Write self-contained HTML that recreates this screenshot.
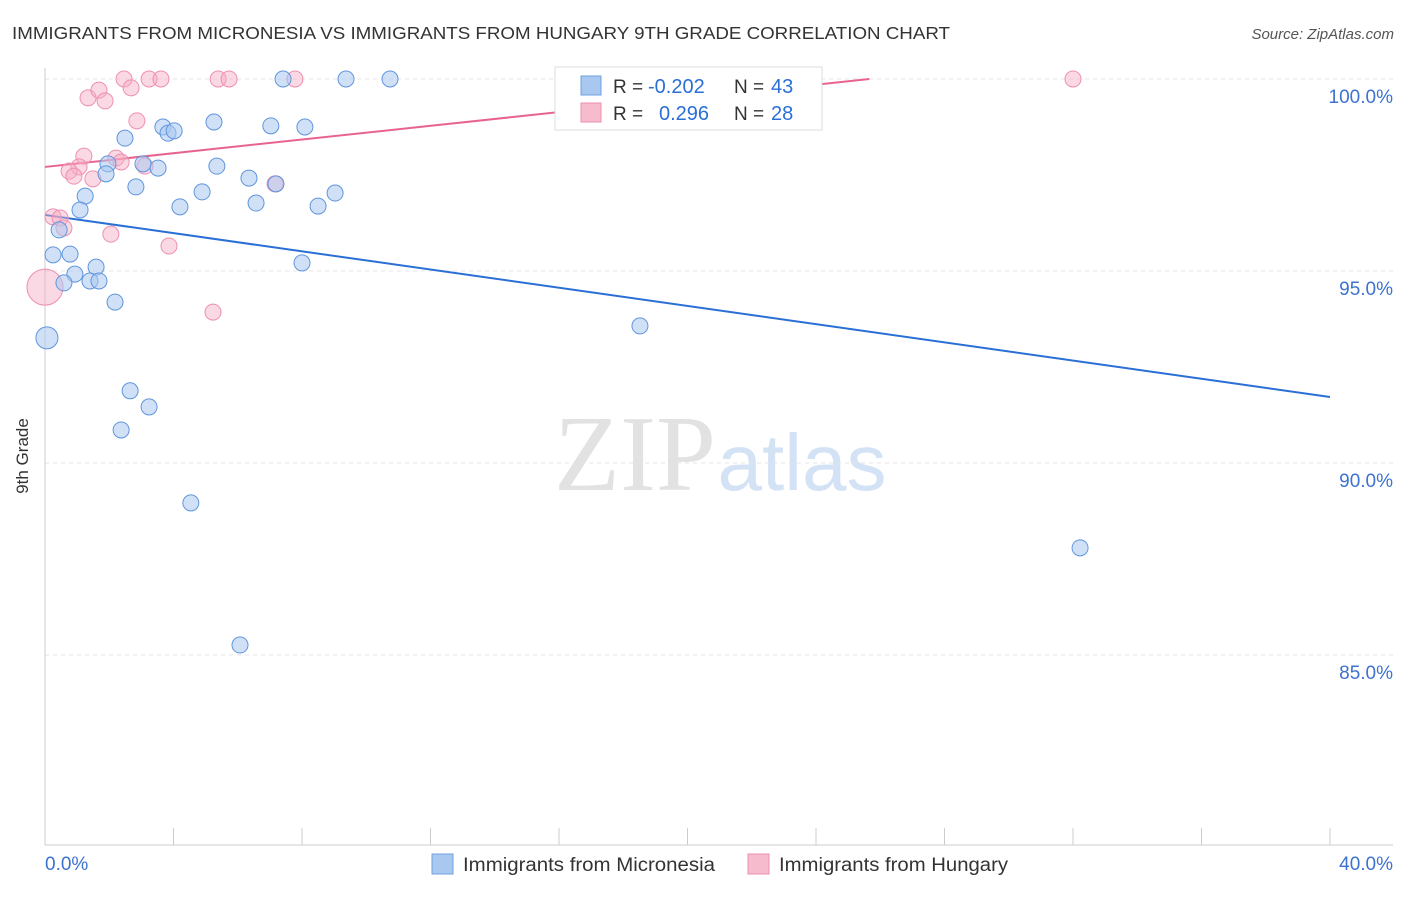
<!DOCTYPE html>
<html><head><meta charset="utf-8"><style>
body{margin:0;background:#fff;font-family:"Liberation Sans",sans-serif}
svg text{font-family:"Liberation Sans",sans-serif}
</style></head><body>
<svg id="chart" width="1406" height="892">
<text x="12" y="39" font-size="17.5" fill="#333" textLength="938" lengthAdjust="spacingAndGlyphs">IMMIGRANTS FROM MICRONESIA VS IMMIGRANTS FROM HUNGARY 9TH GRADE CORRELATION CHART</text>
<text x="1394" y="39" font-size="15" fill="#555" text-anchor="end" font-style="italic">Source: ZipAtlas.com</text>
<text x="28" y="456" font-size="17" fill="#333" text-anchor="middle" transform="rotate(-90 28 456)">9th Grade</text>
<g>
<text x="635" y="490" font-size="108" fill="#e2e2e2" text-anchor="middle" style="font-family:'Liberation Serif',serif">ZIP</text>
<text x="802" y="490" font-size="80" fill="#d3e2f5" text-anchor="middle">atlas</text>
</g>
<g id="grid"></g><g id="axes"></g><g id="lines"></g><g id="pts"></g>
<g>
<rect x="555" y="67" width="267" height="63" fill="#fff" stroke="#ddd"/>
<rect x="581" y="76" width="20" height="19" fill="#a9c8f0" stroke="#6fa0e0"/>
<rect x="581" y="103" width="20" height="19" fill="#f6bccd" stroke="#ee8fae"/>
<text x="613" y="93" font-size="19" fill="#333">R =</text>
<text x="648" y="93" font-size="20" fill="#2a6fd6">-0.202</text>
<text x="734" y="93" font-size="19" fill="#333">N =</text>
<text x="771" y="93" font-size="20" fill="#2a6fd6">43</text>
<text x="613" y="120" font-size="19" fill="#333">R =</text>
<text x="659" y="120" font-size="20" fill="#2a6fd6">0.296</text>
<text x="734" y="120" font-size="19" fill="#333">N =</text>
<text x="771" y="120" font-size="20" fill="#2a6fd6">28</text>
</g>
<g>
<rect x="432" y="854" width="21" height="20" fill="#a9c8f0" stroke="#6fa0e0"/>
<text x="463" y="871" font-size="19" fill="#333" textLength="252" lengthAdjust="spacingAndGlyphs">Immigrants from Micronesia</text>
<rect x="748" y="854" width="21" height="20" fill="#f6bccd" stroke="#ee8fae"/>
<text x="779" y="871" font-size="19" fill="#333" textLength="229" lengthAdjust="spacingAndGlyphs">Immigrants from Hungary</text>
</g>
</svg>
<script>
const blueX=[7.41,9.37,10.74,2.49,3.67,3.83,4.02,5.26,7.03,8.09,1.96,3.05,3.52,5.35,1.90,2.83,6.35,4.89,7.19,9.03,1.25,4.20,6.57,8.50,1.09,0.44,0.25,0.78,1.59,0.93,0.59,1.40,1.68,8.00,2.18,18.52,0.06,2.65,3.24,2.37,4.54,32.22,6.07];
const blueY=[100,100,100,98.46,98.75,98.59,98.65,98.88,98.78,98.75,97.79,97.79,97.68,97.73,97.53,97.19,97.42,97.06,97.27,97.03,96.95,96.67,96.77,96.69,96.59,96.07,95.42,95.44,95.10,94.92,94.69,94.74,94.74,95.21,94.19,93.57,93.26,91.88,91.46,90.86,88.96,87.79,85.26];
const pinkX=[2.46,3.24,3.61,5.39,5.73,7.78,32.0,1.34,1.68,1.87,2.68,2.86,1.21,2.21,2.37,3.11,1.06,0.75,0.90,1.49,7.16,0.25,0.47,0.59,2.05,3.86,5.23,0];
const pinkY=[100,100,100,100,100,100,100,99.51,99.71,99.43,99.77,98.91,97.99,97.94,97.84,97.73,97.71,97.60,97.47,97.40,97.27,96.41,96.38,96.12,95.96,95.65,93.93,94.58];
const blueTrend=[96.46,91.72];
const pinkTrend=[97.71,101.28];
const yTicks=[100,95,90,85];
const yTickLabels=["100.0%","95.0%","90.0%","85.0%"];
const xTickLabels=["0.0%","40.0%"];
const NS="http://www.w3.org/2000/svg";
const X=v=>45+v*32.125, Y=v=>79+(100-v)*38.4;
function mk(p,t,a){const e=document.createElementNS(NS,t);for(const k in a)e.setAttribute(k,a[k]);document.getElementById(p).appendChild(e);return e;}
yTicks.forEach((t,i)=>{
 const l=mk('grid','line',{x1:45,x2:1393,y1:Y(t),y2:Y(t),stroke:'#e4e4e4','stroke-dasharray':'4,4'});
 
 
 const tx=mk('grid','text',{x:1393,y:Y(t)+24,'font-size':19,fill:'#3d72d0','text-anchor':'end'});tx.textContent=yTickLabels[i];
 
 
});
mk('axes','line',{x1:45,x2:45,y1:68,y2:845,stroke:'#ccc'});
mk('axes','line',{x1:45,x2:1393,y1:845,y2:845,stroke:'#ccc'});
for(let i=0;i<=10;i++){const t=mk('axes','line',{x1:X(i*4),x2:X(i*4),y1:828,y2:845,stroke:'#ccc'});
 
 }
[[0,45,'start'],[40,1393,'end']].forEach((d,i)=>{const t=mk('axes','text',{x:d[1],y:870,'font-size':19,fill:'#3d72d0','text-anchor':d[2]});t.textContent=xTickLabels[i];
 
 });
const bl=mk('lines','line',{x1:X(0),y1:Y(blueTrend[0]),x2:X(40),y2:Y(blueTrend[1]),stroke:'#2a6fd6','stroke-width':2});


const slope=(pinkTrend[1]-pinkTrend[0])/40, xe=Math.min(40,(100-pinkTrend[0])/slope);
const pl=mk('lines','line',{x1:X(0),y1:Y(pinkTrend[0]),x2:X(xe),y2:Y(pinkTrend[0]+slope*xe),stroke:'#e8648f','stroke-width':2});


pinkX.forEach((x,i)=>{const c=mk('pts','circle',{cx:X(x),cy:Y(pinkY[i]),r:i==27?18:8,fill:'rgba(246,170,195,0.45)',stroke:'#ee8fae','stroke-width':1});
 
 });
blueX.forEach((x,i)=>{const c=mk('pts','circle',{cx:X(x),cy:Y(blueY[i]),r:i==36?11:8,fill:'rgba(169,200,240,0.55)',stroke:'#5f95dd','stroke-width':1});
 
 });
</script>
</body></html>
